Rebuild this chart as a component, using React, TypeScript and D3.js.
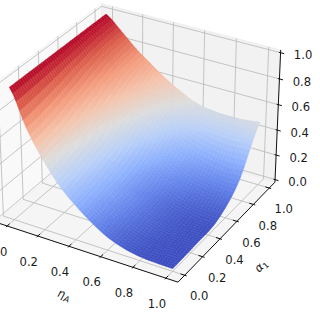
import React from "react";
import * as d3 from "d3";

const etaGrid = [0, 0.1, 0.2, 0.3, 0.4, 0.5, 0.6, 0.7, 0.8, 0.9, 1];
const alphaGrid = [0, 0.25, 0.5, 0.75, 1];
const zAlpha000 = [1, 0.73, 0.525, 0.365, 0.25, 0.155, 0.08, 0.035, 0.01, 0.002, 0];
const zAlpha025 = [1, 0.77, 0.58, 0.42, 0.295, 0.195, 0.115, 0.06, 0.025, 0.008, 0.005];
const zAlpha050 = [1, 0.83, 0.665, 0.505, 0.365, 0.24, 0.15, 0.09, 0.05, 0.03, 0.022];
const zAlpha075 = [1, 0.88, 0.755, 0.625, 0.495, 0.38, 0.285, 0.22, 0.18, 0.16, 0.16];
const zAlpha100 = [1, 0.9, 0.79, 0.7, 0.615, 0.545, 0.49, 0.468, 0.46, 0.465, 0.48];
const zRows = [zAlpha000, zAlpha025, zAlpha050, zAlpha075, zAlpha100];
const ticks = [0, 0.2, 0.4, 0.6, 0.8, 1];
const coolStops = [0, 0.125, 0.25, 0.375, 0.5, 0.625, 0.75, 0.875, 1];
const coolColors = ["#3b4cc0", "#6282ea", "#8db0fe", "#b9d0f9", "#dddddd", "#f5c4ac", "#f49a7b", "#dc5d4a", "#b40426"];

const MESH = 50;
const LO = -0.0729, HI = 1.0729, ZLO = -0.0208, ZHI = 1.0208;
const A = 0.5714, C = 0.418;
const wx = d3.scaleLinear().domain([LO, HI]).range([-A, A]);
const wz = d3.scaleLinear().domain([ZLO, ZHI]).range([-C, C]);
const px = d3.scaleLinear().domain([0, 1]).range([138, 138 + 1823]);
const py = d3.scaleLinear().domain([0, 1]).range([136.4, 136.4 - 1847]);
const color = d3.scaleLinear<string>().domain(coolStops).range(coolColors).interpolate(d3.interpolateRgb).clamp(true);

type P = [number, number, number];
function view(x: number, y: number, z: number): P {
  const dx = wx(x), dy = wx(y), dz = wz(z);
  return [0.866 * dx + 0.5 * dy, -0.25 * dx + 0.433 * dy + 0.866 * dz, 0.433 * dx - 0.75 * dy + 0.5 * dz];
}
function project(x: number, y: number, z: number): [number, number] {
  const [X, Y, Z] = view(x, y, z);
  return [px(X / (10 - Z)), py(Y / (10 - Z))];
}
function catmull(v: number[], t: number): number {
  const n = v.length - 1;
  const s = Math.min(Math.max(t, 0), 1) * n;
  const i = Math.min(Math.floor(s), n - 1);
  const f = s - i;
  const p0 = v[Math.max(i - 1, 0)], p1 = v[i], p2 = v[i + 1], p3 = v[Math.min(i + 2, n)];
  return 0.5 * (2 * p1 + (p2 - p0) * f + (2 * p0 - 5 * p1 + 4 * p2 - p3) * f * f + (3 * p1 - p0 - 3 * p2 + p3) * f * f * f);
}
function surf(eta: number, alpha: number): number {
  const col = zRows.map((r) => catmull(r, eta));
  return Math.max(0, catmull(col, alpha));
}
const line = d3.line();
const poly = (pts: [number, number][]) => line(pts) + "Z";

const cells: { d: string; c: string; depth: number }[] = [];
for (let i = 0; i < MESH; i++) {
  for (let j = 0; j < MESH; j++) {
    const e0 = i / MESH, e1 = (i + 1) / MESH, a0 = j / MESH, a1 = (j + 1) / MESH;
    const zs = [surf(e0, a0), surf(e1, a0), surf(e1, a1), surf(e0, a1)];
    const zm = d3.mean(zs) as number;
    cells.push({
      d: poly([project(e0, a0, zs[0]), project(e1, a0, zs[1]), project(e1, a1, zs[2]), project(e0, a1, zs[3])]),
      c: color(zm),
      depth: view((e0 + e1) / 2, (a0 + a1) / 2, zm)[2],
    });
  }
}
cells.sort((p, q) => d3.ascending(p.depth, q.depth));

const seg = (a: [number, number], b: [number, number]) => line([a, b]) as string;
const GRID = "#bdbdbd";
const LABEL = { fontFamily: "DejaVu Sans", fontSize: 11.6, fill: "#1a1a1a" };

export default function App() {
  return (
    <svg width={320} height={320} viewBox="0 0 320 320" style={{ position: "absolute", left: 0, top: 0, display: "block", background: "#fff" }}>
      {/* panes */}
      <path d={poly([project(LO, LO, ZLO), project(LO, HI, ZLO), project(LO, HI, ZHI), project(LO, LO, ZHI)])} fill="#f9f9f9" stroke="#f0f0f0" strokeWidth={0.8} />
      <path d={poly([project(LO, HI, ZLO), project(HI, HI, ZLO), project(HI, HI, ZHI), project(LO, HI, ZHI)])} fill="#f2f2f2" stroke="#ebebeb" strokeWidth={0.8} />
      <path d={poly([project(LO, LO, ZLO), project(HI, LO, ZLO), project(HI, HI, ZLO), project(LO, HI, ZLO)])} fill="#f5f5f5" stroke="#eeeeee" strokeWidth={0.8} />
      {/* grid */}
      <g stroke={GRID} strokeWidth={0.9} fill="none">
        {ticks.map((t) => (
          <g key={t}>
            <path d={line([project(t, LO, ZLO), project(t, HI, ZLO), project(t, HI, ZHI)]) as string} />
            <path d={line([project(HI, t, ZLO), project(LO, t, ZLO), project(LO, t, ZHI)]) as string} />
            <path d={line([project(LO, LO, t), project(LO, HI, t), project(HI, HI, t)]) as string} />
          </g>
        ))}
      </g>
      {/* surface */}
      <g>
        {cells.map((c, i) => (
          <path key={i} d={c.d} fill={c.c} stroke={c.c} strokeWidth={0.4} />
        ))}
      </g>
      {/* axes */}
      <g stroke="#111" strokeWidth={1} fill="none">
        <path d={seg(project(LO, LO, ZLO), project(HI, LO, ZLO))} />
        <path d={seg(project(HI, LO, ZLO), project(HI, HI, ZLO))} />
        <path d={seg(project(HI, HI, ZLO), project(HI, HI, ZHI))} />
        {ticks.map((t) => (
          <g key={t}>
            <path d={seg(project(t, LO - 0.012, ZLO), project(t, LO + 0.025, ZLO))} />
            <path d={seg(project(HI + 0.012, t, ZLO), project(HI - 0.025, t, ZLO))} />
            <path d={seg(project(HI - 0.01, HI, t), project(HI + 0.022, HI, t))} />
          </g>
        ))}
      </g>
      {/* labels */}
      <g {...LABEL} textAnchor="middle">
        {ticks.map((t) => {
          const a = project(t, LO, ZLO), b = project(HI, t, ZLO), c = project(HI, HI, t);
          return (
            <g key={t}>
              <text x={a[0] - 9} y={a[1] + 25.5} dy="0.36em">{t.toFixed(1)}</text>
              <text x={b[0] + 14.5} y={b[1] + 21} dy="0.36em">{t.toFixed(1)}</text>
              <text x={c[0] + 22.5} y={c[1] + 2.5} dy="0.36em">{t.toFixed(1)}</text>
            </g>
          );
        })}
        <text transform="translate(64,295) rotate(18)" dy="0.3em" fontStyle="italic">
          η<tspan fontSize={8.2} dy={2.5}>A</tspan>
        </text>
        <text transform="translate(261,266) rotate(-45)" dy="0.3em" fontStyle="italic">
          α<tspan fontSize={8.2} dy={2.5} fontStyle="normal">1</tspan>
        </text>
      </g>
    </svg>
  );
}
